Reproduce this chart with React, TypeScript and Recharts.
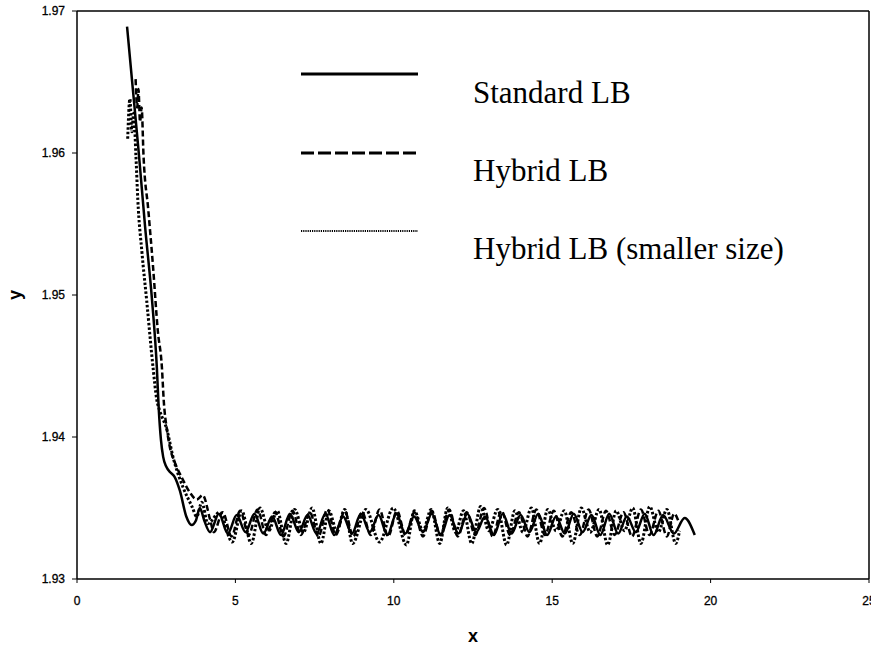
import { Legend, Line, LineChart, ReferenceLine, XAxis, YAxis } from "recharts";

// axis ticks
const X_TICKS = [0, 5, 10, 15, 20, 25];
const Y_TICKS = [1.93, 1.94, 1.95, 1.96, 1.97];

// series names
const NAMES = ["Standard LB", "Hybrid LB", "Hybrid LB (smaller size)"];

// [x, y] pairs
const standardLB: [number, number][] = [
  [1.58, 1.9689], [1.75, 1.9648], [1.95, 1.96], [2.15, 1.9548], [2.37, 1.9496],
  [2.52, 1.9449], [2.58, 1.942], [2.65, 1.9398], [2.72, 1.9386], [2.82, 1.9379],
  [2.95, 1.9375], [3.08, 1.9372], [3.25, 1.9362], [3.45, 1.9344], [3.62, 1.9338],
  [3.75, 1.9341], [3.88, 1.935], [4.02, 1.9341], [4.2, 1.9333], [4.48, 1.9346],
  [4.76, 1.9332], [5.04, 1.9345], [5.32, 1.9333], [5.6, 1.9346], [5.88, 1.9332],
  [6.16, 1.9344], [6.44, 1.9331], [6.72, 1.9346], [7.0, 1.9333], [7.28, 1.9345],
  [7.56, 1.9332], [7.84, 1.9346], [8.12, 1.9331], [8.4, 1.9344], [8.68, 1.9332],
  [8.96, 1.9346], [9.24, 1.9333], [9.52, 1.9345], [9.8, 1.9331], [10.08, 1.9346],
  [10.36, 1.9332], [10.64, 1.9344], [10.92, 1.9333], [11.2, 1.9346], [11.48, 1.9331],
  [11.76, 1.9345], [12.04, 1.9332], [12.32, 1.9346], [12.6, 1.9333], [12.88, 1.9344],
  [13.16, 1.9331], [13.44, 1.9346], [13.72, 1.9332], [14.0, 1.9345], [14.28, 1.9333],
  [14.56, 1.9346], [14.84, 1.9331], [15.12, 1.9344], [15.4, 1.9332], [15.68, 1.9346],
  [15.96, 1.9333], [16.24, 1.9345], [16.52, 1.9331], [16.8, 1.9346], [17.08, 1.9332],
  [17.36, 1.9344], [17.64, 1.9333], [17.92, 1.9346], [18.2, 1.9331], [18.5, 1.9345],
  [18.84, 1.9332], [19.18, 1.9343], [19.5, 1.9331],
];

const hybridLB: [number, number][] = [
  [1.85, 1.9652], [1.9, 1.9632], [1.94, 1.9645], [1.99, 1.9622], [2.04, 1.9632],
  [2.1, 1.9598], [2.25, 1.956], [2.4, 1.952], [2.55, 1.9475], [2.68, 1.9449],
  [2.74, 1.9425], [2.84, 1.9405], [2.93, 1.9393], [3.09, 1.9382], [3.34, 1.937],
  [3.56, 1.9361], [3.78, 1.9356], [3.97, 1.9359], [4.2, 1.9342], [4.32, 1.9333],
  [4.6, 1.9347], [4.88, 1.933], [5.15, 1.9348], [5.42, 1.9331], [5.7, 1.9349],
  [5.97, 1.9331], [6.25, 1.9347], [6.52, 1.933], [6.8, 1.9348], [7.07, 1.9331],
  [7.35, 1.9347], [7.62, 1.933], [7.9, 1.9349], [8.17, 1.9331], [8.45, 1.9348],
  [8.72, 1.933], [9.0, 1.9347], [9.27, 1.9331], [9.55, 1.9349], [9.82, 1.933],
  [10.1, 1.9348], [10.37, 1.9331], [10.65, 1.9347], [10.92, 1.933], [11.2, 1.9348],
  [11.47, 1.9331], [11.75, 1.9349], [12.02, 1.933], [12.3, 1.9347], [12.57, 1.9331],
  [12.85, 1.935], [13.12, 1.933], [13.4, 1.9348], [13.67, 1.9331], [13.95, 1.9347],
  [14.22, 1.933], [14.5, 1.9349], [14.77, 1.9331], [15.05, 1.9348], [15.32, 1.933],
  [15.6, 1.9347], [15.87, 1.9331], [16.15, 1.9349], [16.42, 1.933], [16.7, 1.9348],
  [16.97, 1.9331], [17.25, 1.9347], [17.52, 1.933], [17.8, 1.9349], [18.07, 1.9331],
  [18.35, 1.9348], [18.62, 1.933], [18.85, 1.9346], [18.98, 1.9341],
];

const hybridSmall: [number, number][] = [
  [1.6, 1.961], [1.67, 1.9638], [1.73, 1.9615], [1.79, 1.9628], [1.86, 1.9598],
  [1.92, 1.9567], [2.05, 1.953], [2.2, 1.9496], [2.4, 1.9449], [2.52, 1.9426],
  [2.62, 1.9418], [2.84, 1.9405], [3.03, 1.9386], [3.34, 1.9365], [3.63, 1.9351],
  [3.78, 1.9344], [3.94, 1.9354], [4.13, 1.9339], [4.5, 1.9347], [4.9, 1.9326],
  [5.2, 1.9348], [5.5, 1.9325], [5.78, 1.935], [6.05, 1.9334], [6.32, 1.9348],
  [6.6, 1.9325], [6.87, 1.9349], [7.15, 1.9333], [7.42, 1.935], [7.7, 1.9325],
  [7.95, 1.9348], [8.2, 1.9334], [8.45, 1.9349], [8.7, 1.9325], [9.12, 1.9349],
  [9.55, 1.9326], [9.98, 1.935], [10.4, 1.9324], [10.65, 1.9348], [10.92, 1.9334],
  [11.18, 1.9349], [11.45, 1.9325], [11.7, 1.935], [11.95, 1.9333], [12.2, 1.9348],
  [12.46, 1.9325], [12.74, 1.9351], [13.0, 1.9334], [13.28, 1.9349], [13.56, 1.9324],
  [13.82, 1.9348], [14.08, 1.9333], [14.34, 1.935], [14.6, 1.9325], [14.86, 1.9349],
  [15.12, 1.9334], [15.38, 1.9348], [15.65, 1.9325], [15.92, 1.935], [16.2, 1.9333],
  [16.48, 1.9349], [16.75, 1.9324], [17.02, 1.9348], [17.28, 1.9334], [17.54, 1.935],
  [17.8, 1.9325], [18.08, 1.9351], [18.35, 1.9333], [18.62, 1.9349], [18.9, 1.9325],
  [19.02, 1.9334],
];

const toPoints = (pairs: [number, number][]) => pairs.map(([x, y]) => ({ x, y }));

const SANS = "'Liberation Sans', Arial, sans-serif";
const SERIF = "'Liberation Serif', 'Times New Roman', serif";

// line looks, chart and legend sample
const LOOKS: Record<string, { chartDash?: string; chartWidth: number; legendDash?: string; legendWidth: number }> = {
  "Standard LB": { chartWidth: 2.5, legendWidth: 3 },
  "Hybrid LB": { chartDash: "6 3", chartWidth: 2.5, legendDash: "13 4", legendWidth: 3 },
  "Hybrid LB (smaller size)": { chartDash: "2.5 2", chartWidth: 3, legendDash: "1.2 1", legendWidth: 2 },
};

const TICK_STYLE = { fontSize: 12, fill: "#000", fontFamily: SANS, stroke: "#000", strokeWidth: 0.3 };

const XTitle = (props: any) => {
  const { x, y, width } = props.viewBox;
  return (
    <text x={x + width / 2} y={y + 57} textAnchor="middle" dominantBaseline="central"
      fontFamily={SANS} fontWeight="bold" fontSize={18} fill="#000">
      x
    </text>
  );
};

const YTitle = (props: any) => {
  const { x, y, height } = props.viewBox;
  const cx = x + 15;
  const cy = y + height / 2;
  return (
    <text x={cx} y={cy} textAnchor="middle" dominantBaseline="central" transform={`rotate(-90 ${cx} ${cy})`}
      fontFamily={SANS} fontWeight="bold" fontSize={18} fill="#000">
      y
    </text>
  );
};

const renderLegend = (props: any) => {
  const entries = [...(props.payload || [])].sort(
    (a: any, b: any) => NAMES.indexOf(a.value) - NAMES.indexOf(b.value),
  );
  return (
    <div style={{ position: "relative", width: 871, height: 300 }}>
      {entries.map((entry: any, i: number) => {
        const look = LOOKS[entry.value];
        return (
          <div key={entry.value}>
            <svg width={120} height={8} style={{ position: "absolute", left: 300, top: 70 + i * 78.5 }}>
              <line x1={1} y1={4} x2={118} y2={4} stroke="#000" strokeWidth={look.legendWidth}
                strokeDasharray={look.legendDash} />
            </svg>
            <span style={{ position: "absolute", left: 473, top: 77 + i * 78, fontFamily: SERIF,
              fontSize: 31, lineHeight: "31px", color: "#000", whiteSpace: "nowrap" }}>
              {entry.value}
            </span>
          </div>
        );
      })}
    </div>
  );
};

const SERIES = [standardLB, hybridLB, hybridSmall];

export default function App() {
  return (
    <div style={{ position: "absolute", left: 0, top: 0, background: "#fff" }}>
      <LineChart width={871} height={648} margin={{ top: 11, right: 2, bottom: 0, left: 0 }}>
        <XAxis
          dataKey="x"
          type="number"
          domain={[0, 25]}
          ticks={X_TICKS}
          interval={0}
          height={69}
          tickSize={4}
          tickMargin={13}
          axisLine={{ stroke: "#000", strokeWidth: 1.5 }}
          tickLine={{ stroke: "#000" }}
          tick={TICK_STYLE}
          label={XTitle}
          allowDataOverflow
        />
        <YAxis
          type="number"
          domain={[1.93, 1.97]}
          ticks={Y_TICKS}
          interval={0}
          width={77}
          tickSize={5}
          tickMargin={7}
          tickFormatter={(v: number) => v.toFixed(2)}
          axisLine={{ stroke: "#000", strokeWidth: 1.5 }}
          tickLine={{ stroke: "#000" }}
          tick={TICK_STYLE}
          label={YTitle}
          allowDataOverflow
        />
        <ReferenceLine y={1.97} stroke="#000" strokeWidth={1.5} />
        <ReferenceLine x={25} stroke="#000" strokeWidth={1.5} />
        <Legend
          layout="vertical"
          align="center"
          verticalAlign="middle"
          content={renderLegend}
          wrapperStyle={{ left: 0, top: 0, width: 871, height: 300 }}
        />
        {SERIES.map((pairs, i) => (
          <Line
            key={NAMES[i]}
            name={NAMES[i]}
            data={toPoints(pairs)}
            dataKey="y"
            type="monotone"
            stroke="#000"
            strokeWidth={LOOKS[NAMES[i]].chartWidth}
            strokeDasharray={LOOKS[NAMES[i]].chartDash}
            dot={false}
            activeDot={false}
            isAnimationActive={false}
          />
        ))}
      </LineChart>
    </div>
  );
}
